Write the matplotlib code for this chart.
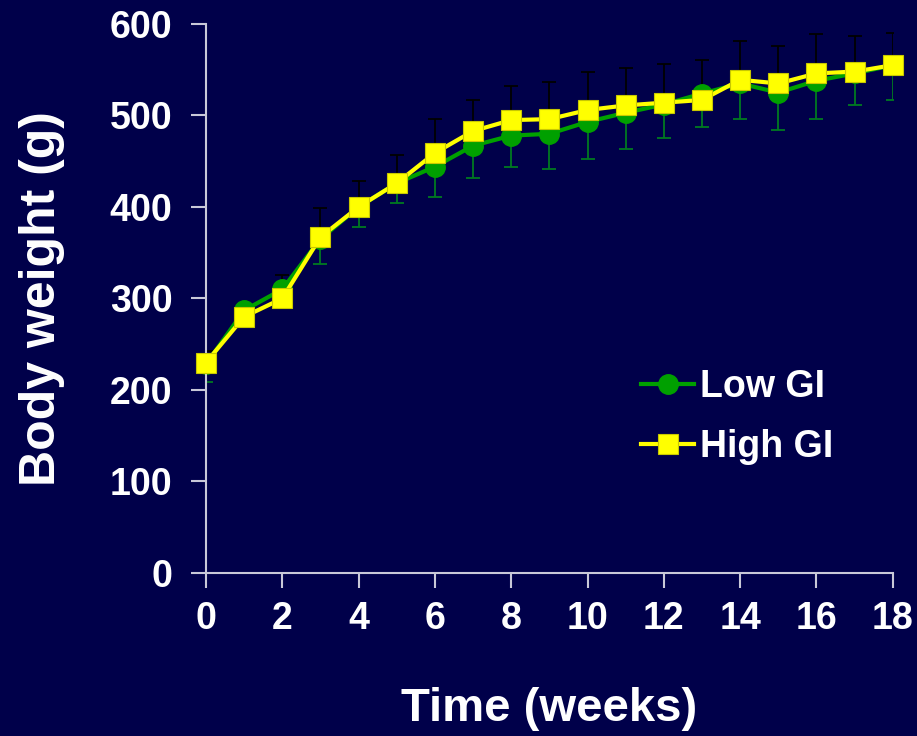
import matplotlib.pyplot as plt
import numpy as np

plt.rcParams['font.family'] = ['Liberation Sans', 'DejaVu Sans']
plt.rcParams['font.weight'] = 'bold'

weeks = np.arange(0, 19)
low_gi = [228, 287, 310, 365, 400, 426, 444, 467, 478, 480, 493, 503, 512,
          524, 535, 525, 538, 546, 555]
low_gi_err = [19, 8, 8, 27, 22, 22, 33, 35, 34, 38, 41, 40, 37,
              37, 39, 41, 42, 35, 38]
high_gi = [230, 280, 300, 367, 400, 426, 459, 483, 495, 496, 506, 511, 514,
           517, 539, 535, 546, 548, 555]
high_gi_err = [13, 10, 26, 32, 28, 31, 37, 34, 37, 41, 41, 41, 42,
               44, 42, 41, 43, 39, 35]

bg = '#00004a'
fig = plt.figure(figsize=(9.17, 7.36), dpi=100, facecolor=bg)
ax = fig.add_axes([0.2246, 0.2215, 0.749, 0.7459], facecolor=bg)

# one-sided error bars: Low GI downwards, High GI upwards
ax.errorbar(weeks, low_gi, yerr=[low_gi_err, np.zeros(19)], fmt='none',
            ecolor='#007a20', elinewidth=1.3, capsize=5, capthick=1.3, zorder=1)
ax.errorbar(weeks, high_gi, yerr=[np.zeros(19), high_gi_err], fmt='none',
            ecolor='black', elinewidth=1.3, capsize=5, capthick=1.3, zorder=1)

ax.plot(weeks, low_gi, color='#00a000', lw=3, marker='o', ms=14,
        mfc='#00a000', mec='#00a000', label='Low GI', zorder=2, clip_on=False)
ax.plot(weeks, high_gi, color='#ffff00', lw=3, marker='s', ms=14,
        mfc='#ffff00', mec='#c8c800', mew=0.8, label='High GI', zorder=3,
        clip_on=False)

ax.set_xlim(0, 18)
ax.set_ylim(0, 600)
ax.set_xticks(np.arange(0, 19, 2))
ax.set_yticks(np.arange(0, 601, 100))

for s in ['top', 'right']:
    ax.spines[s].set_visible(False)
for s in ['left', 'bottom']:
    ax.spines[s].set_color('#c8c8d8')
    ax.spines[s].set_linewidth(1.5)
ax.tick_params(colors='#c8c8d8', width=1.5, length=11, labelsize=27,
               labelcolor='white')
ax.tick_params(axis='y', pad=13)
ax.tick_params(axis='x', pad=9)
for lab in ax.get_xticklabels() + ax.get_yticklabels():
    lab.set_fontweight('bold')

ax.set_xlabel('Time (weeks)', fontsize=34, fontweight='bold', color='white',
              labelpad=36)
ax.set_ylabel('Body weight (g)', fontsize=36, fontweight='bold', color='white',
              labelpad=32)

leg = ax.legend(loc='upper left', bbox_to_anchor=(0.634, 0.372), frameon=False,
                fontsize=27, handlelength=1.4, handletextpad=0.15,
                labelspacing=0.65, borderpad=0, borderaxespad=0)
for t in leg.get_texts():
    t.set_color('white')
    t.set_fontweight('bold')

fig.savefig('out.png', dpi=100, facecolor=bg)
